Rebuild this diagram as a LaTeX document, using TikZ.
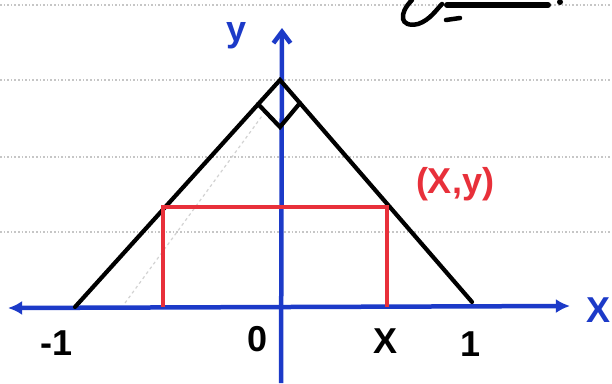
\documentclass[tikz,border=0pt]{standalone}
\usepackage{fontspec}
\setmainfont{Liberation Sans}
\usetikzlibrary{arrows.meta}
\definecolor{penblue}{RGB}{28,58,200}
\definecolor{penred}{RGB}{232,48,58}

\begin{document}
\begin{tikzpicture}[
      x=1pt, y=-1pt,
      axis/.style={penblue, line width=4.5pt},
      edge/.style={black, line width=4.2pt, line cap=round},
      rect/.style={penred, line width=4pt},
      paper/.style={gray!45, dotted, line width=1.6pt},
      lbl/.style={font=\fontsize{36}{38}\selectfont\bfseries, inner sep=1pt}
    ]
    \useasboundingbox (0,0) rectangle (612,383);
    % ruled paper
    \foreach \yy in {5,80,157,232}
      \draw[paper] (0,\yy) -- (612,\yy);

    % axes
    \coordinate (xl) at (8,308);
    \coordinate (xr) at (570,306);
    \coordinate (yb) at (281,383);
    \coordinate (yt) at (282,28);
    \draw[axis, {Latex[length=5mm,width=5mm]}-{Latex[length=5mm,width=5mm]}] (xl) -- (xr);
    \draw[axis, -{Straight Barb[length=4mm,width=6mm]}] (yb) -- (yt);

    % triangle
    \coordinate (apex) at (280,80);
    \coordinate (left) at (75,307);
    \coordinate (right) at (472,302);
    \draw[edge] (left) -- (apex) -- (right);
    \coordinate (ml) at (258,104);
    \coordinate (mb) at (280,127);
    \coordinate (mr) at (300,103);
    \draw[edge] (ml) -- (mb) -- (mr);
    \draw[gray!35, dashed, line width=1.2pt] (125,303) -- (262,116);

    % rectangle
    \coordinate (q) at (163,207);
    \coordinate (p) at (387,207);
    \coordinate (qb) at (163,307);
    \coordinate (pb) at (387,307);
    \draw[rect] (qb) -- (q) -- (p) -- (pb);

    % labels
    \node[lbl, penblue] (ylab) at (237,36) {y};
    \node[lbl, penblue] (xlab) at (598,310) {X};
    \node[lbl, penred] (plab) at (455,184) {(X,y)};
    \node[lbl] (mone) at (57,343) {-1};
    \node[lbl] (zero) at (258,339) {0};
    \node[lbl] (xval) at (385,341) {X};
    \node[lbl] (one) at (471,344) {1};

    % scribble, top right
    \draw[edge, line width=4.5pt] (412,0) .. controls (398,14) and (400,28) .. (418,24)
      .. controls (430,20) and (436,10) .. (442,4);
    \draw[edge, line width=6pt] (447,5) -- (548,5);
    \draw[edge, line width=4.5pt] (446,20) -- (460,18);
    \fill (560,2) circle (3pt);
  \end{tikzpicture}
\end{document}
